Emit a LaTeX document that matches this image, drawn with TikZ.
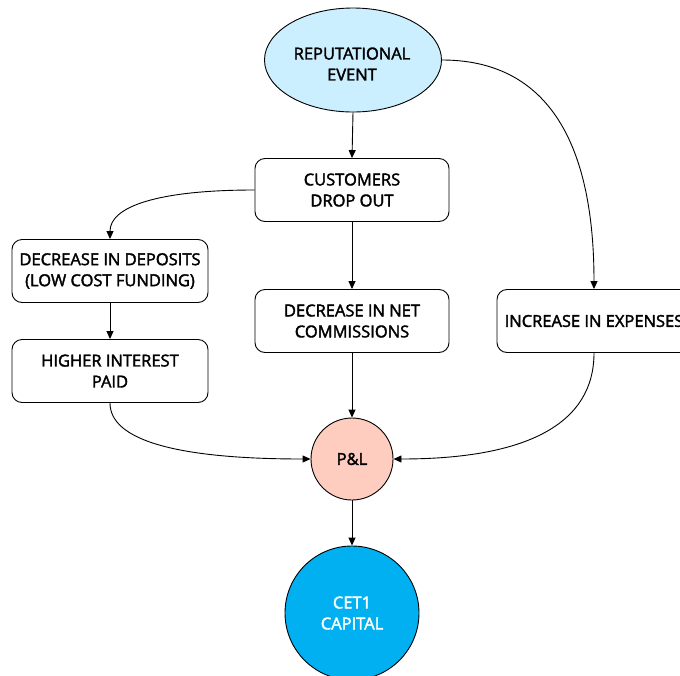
\documentclass[tikz,border=0pt]{standalone}
\usepackage{fontspec}
\setmainfont{Open Sans}
\newfontfamily\labfont{Open Sans}
\usetikzlibrary{arrows.meta,shapes.geometric,calc}
\definecolor{evfill}{RGB}{204,239,255}
\definecolor{plfill}{RGB}{255,204,192}
\definecolor{cetfill}{RGB}{0,176,240}
\tikzset{
  every node/.style={font=\labfont\fontsize{16.5}{21}\selectfont, align=center, inner sep=0pt},
  heavy/.style={execute at begin node={\special{pdf:literal direct 2 Tr 0.35 w}}, execute at end node={\special{pdf:literal direct 0 Tr}}},
  box/.style={draw=black, line width=0.9pt, rounded corners=10pt, minimum width=194pt, minimum height=63pt, fill=white, heavy},
  conn/.style={draw=black, line width=0.9pt, -{Triangle[length=8pt,width=7pt]}}
}
\begin{document}
\begin{tikzpicture}[x=1pt,y=-1pt]
\useasboundingbox (0,0) rectangle (680,675);
\clip (0,0) rectangle (680,675);
\node[ellipse, draw=black, line width=0.9pt, fill=evfill, minimum width=177pt, minimum height=104pt] (ev) at (353,60) {};
\node[heavy] (evt) at (352,64) {REPUTATIONAL\\EVENT};
\node[box] (cust) at (352,190) {CUSTOMERS\\DROP OUT};
\node[box, minimum width=196pt] (dep) at (110,271) {DECREASE IN DEPOSITS\\(LOW COST FUNDING)};
\node[box, minimum width=196pt] (hip) at (110,371) {HIGHER INTEREST\\PAID};
\node[box] (net) at (352,321) {DECREASE IN NET\\COMMISSIONS};
\node[box] (exp) at (594,321) {INCREASE IN EXPENSES};
\node[circle, draw=black, line width=0.9pt, fill=plfill, minimum size=82pt, heavy] (pl) at (352,459) {P\&L};
\node[circle, draw=black, line width=0.9pt, fill=cetfill, minimum size=134pt, text=white, heavy] (cet) at (352,613) {CET1\\CAPITAL};
\coordinate (k1) at (exp.north |- ev.east);
\coordinate (k2) at (dep.north |- cust.west);
\coordinate (k3) at (hip.south |- pl.west);
\coordinate (k4) at (exp.south |- pl.east);
\draw[conn] (ev.south) -- (cust.north);
\draw[conn] (ev.east) .. controls ($(ev.east)!0.667!(k1)$) and ($(exp.north)!0.667!(k1)$) .. (exp.north);
\draw[conn] (cust.west) .. controls ($(cust.west)!0.667!(k2)$) and ($(dep.north)!0.667!(k2)$) .. (dep.north);
\draw[conn] (dep.south) -- (hip.north);
\draw[conn] (cust.south) -- (net.north);
\draw[conn] (net.south) -- (pl.north);
\draw[conn] (hip.south) .. controls ($(hip.south)!0.667!(k3)$) and ($(pl.west)!0.667!(k3)$) .. (pl.west);
\draw[conn] (exp.south) .. controls ($(exp.south)!0.667!(k4)$) and ($(pl.east)!0.667!(k4)$) .. (pl.east);
\draw[conn] (pl.south) -- (cet.north);
\end{tikzpicture}
\end{document}
